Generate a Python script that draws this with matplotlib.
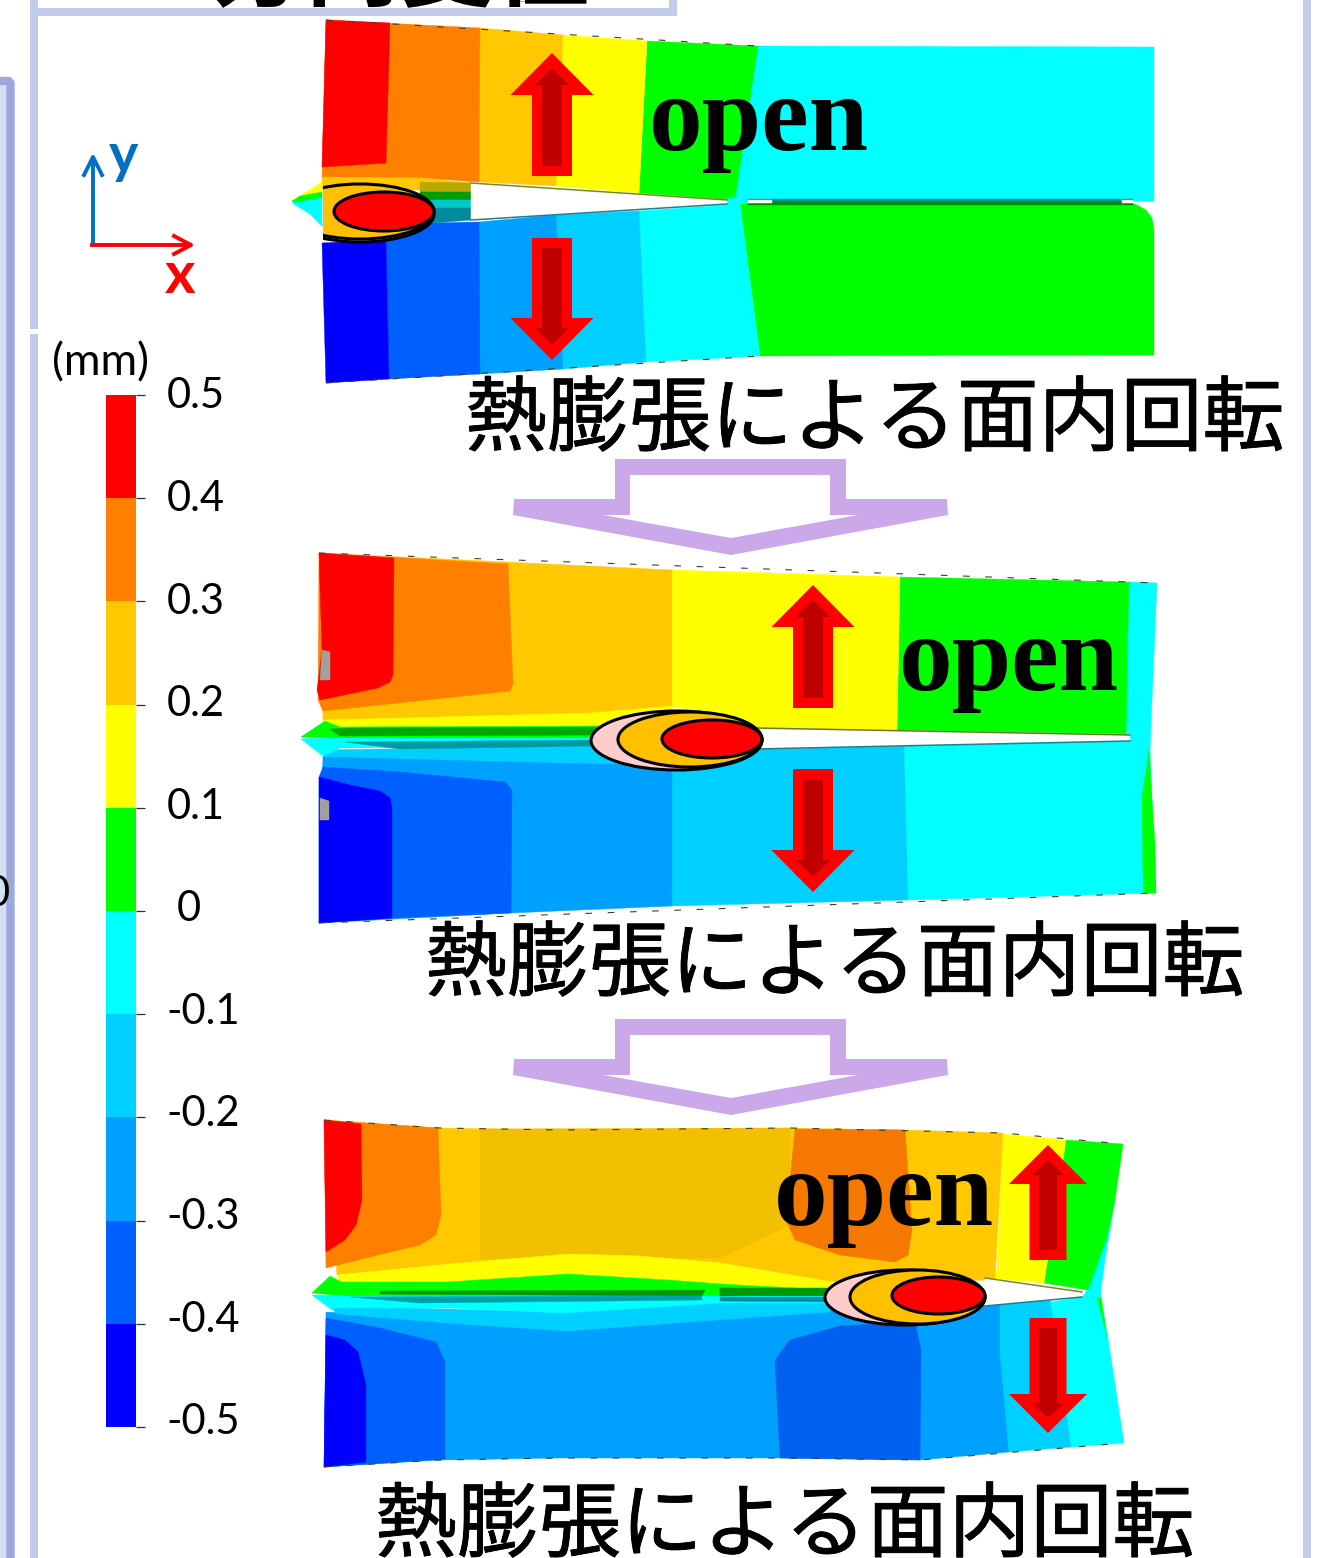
import matplotlib
matplotlib.use('Agg')
import numpy as np
import matplotlib.pyplot as plt
import matplotlib.patheffects as pe
from matplotlib.patches import Polygon, Ellipse, Rectangle, FancyBboxPatch

W, H = 1329, 1558

# colour scale, top of the bar to the bottom
TICK_VALUES = [0.5, 0.4, 0.3, 0.2, 0.1, 0, -0.1, -0.2, -0.3, -0.4, -0.5]
TICK_LABELS = ['0.5', '0.4', '0.3', '0.2', '0.1', '0', '-0.1', '-0.2', '-0.3', '-0.4', '-0.5']
RED, ORANGE, AMBER, YELLOW, GREEN, CYAN, SKY, AZURE, ROYAL, BLUE = (
    '#ff0000', '#ff8000', '#ffc800', '#ffff00', '#00ff00',
    '#00ffff', '#00d0ff', '#00a0ff', '#0060ff', '#0000ff')
LEVEL_COLORS = [RED, ORANGE, AMBER, YELLOW, GREEN, CYAN, SKY, AZURE, ROYAL, BLUE]

# contour regions, painted in list order
PANEL1 = [
    (CYAN, [(758, 46), (1154, 47), (1154, 201), (735, 201)]),
    (GREEN, [(647, 41), (758, 46), (735, 200), (639, 193)]),
    (YELLOW, [(563, 35), (647, 41), (639, 193), (556, 186)]),
    (AMBER, [(480, 28), (563, 35), (556, 186), (479, 182)]),
    (ORANGE, [(326, 20), (480, 28), (479, 182), (423, 178), (322, 177)]),
    (RED, [(326, 20), (390, 23), (386, 163), (322, 167)]),
    (AMBER, [(322, 177), (423, 178), (471, 183), (471, 190), (322, 190)]),
    (CYAN, [(727, 198), (760, 198), (760, 206), (727, 206)]),
    (GREEN, [(740, 204), (1135, 204), (1146, 210), (1152, 218), (1154, 230), (1154, 355), (760, 356)]),
    (CYAN, [(639, 211), (740, 204), (760, 356), (646, 362)]),
    (SKY, [(556, 215), (639, 211), (646, 362), (563, 369)]),
    (AZURE, [(479, 222), (556, 215), (563, 369), (479, 374)]),
    (ROYAL, [(322, 225), (479, 222), (480, 374), (389, 379), (386, 240)]),
    (BLUE, [(322, 243), (386, 240), (389, 379), (326, 383)]),
    # tip and the closed part of the crack
    (YELLOW, [(292, 201), (322, 182), (322, 192), (300, 197)]),
    (GREEN, [(292, 201), (300, 196), (322, 192), (322, 198), (296, 204)]),
    (CYAN, [(292, 203), (322, 198), (322, 226), (310, 214)]),
    ('#b8a800', [(420, 182), (471, 183), (471, 192), (420, 192)]),
    ('#009c00', [(420, 192), (471, 192), (471, 200), (420, 200)]),
    ('#00c8c8', [(420, 200), (471, 200), (471, 208), (420, 208)]),
    ('#008c9c', [(420, 208), (471, 208), (471, 220), (420, 224)]),
    ('#ffffff', [(471, 183), (727, 200), (727, 203), (471, 220)]),
    # long closed crack on the right: teal over dark green, open only at its ends
    ('#008c9c', [(748, 199), (1133, 199), (1133, 202), (748, 202)]),
    ('#009000', [(748, 202), (1133, 202), (1133, 205), (748, 205)]),
    ('#ffffff', [(748, 200), (772, 200), (772, 203), (748, 203)]),
    ('#ffffff', [(1122, 200), (1133, 200), (1133, 203), (1122, 203)]),
]
PANEL2 = [
    (CYAN, [(1129, 582), (1157, 583), (1152, 700), (1150, 750), (1156, 893), (908, 900), (904, 745), (1126, 738)]),
    (GREEN, [(900, 577), (1129, 582), (1126, 734), (897, 730)]),
    (YELLOW, [(672, 570), (900, 577), (897, 730), (760, 728), (672, 706)]),
    (AMBER, [(319, 553), (672, 570), (672, 708), (590, 715), (323, 721)]),
    (YELLOW, [(323, 720), (590, 713), (672, 706), (680, 726), (597, 727), (327, 729)]),
    (ORANGE, [(319, 553), (508, 564), (513, 684), (510, 691), (323, 711), (318, 700)]),
    (RED, [(319, 553), (394, 558), (393, 675), (390, 682), (378, 688), (320, 700), (317, 690), (322, 650)]),
    ('#a0a0a0', [(322, 650), (330, 652), (330, 680), (320, 680)]),
    (SKY, [(323, 750), (680, 744), (672, 770), (590, 767), (323, 758)]),
    (SKY, [(672, 748), (904, 745), (908, 900), (672, 906)]),
    (AZURE, [(323, 757), (590, 764), (672, 764), (672, 906), (511, 913), (319, 923)]),
    (ROYAL, [(323, 767), (400, 772), (505, 782), (512, 790), (511, 913), (392, 918), (319, 923), (319, 777)]),
    (BLUE, [(319, 777), (350, 785), (380, 791), (390, 798), (392, 808), (392, 918), (319, 923)]),
    ('#a0a0a0', [(320, 798), (329, 801), (329, 820), (320, 820)]),
    (GREEN, [(1149, 750), (1142, 797), (1143, 877), (1144, 893), (1156, 893), (1155, 843), (1152, 800)]),
    # crack faces
    (GREEN, [(301, 737), (325, 721), (340, 727), (600, 726), (600, 738), (330, 738)]),
    ('#00a800', [(330, 729), (350, 728), (600, 727), (600, 735), (340, 736)]),
    (CYAN, [(301, 739), (330, 738), (600, 738), (600, 746), (340, 748), (323, 756)]),
    ('#009aa0', [(345, 742), (600, 740), (600, 746), (400, 749)]),
    ('#ffffff', [(755, 728), (1130, 735), (1130, 741), (755, 749)]),
]
PANEL3 = [
    (CYAN, [(1082, 1297), (1101, 1297), (1108, 1338), (1124, 1443), (1071, 1447), (1050, 1302)]),
    (CYAN, [(1115, 1200), (1105, 1260), (1101, 1290), (1101, 1300), (1082, 1298), (1088, 1288)]),
    (GREEN, [(1066, 1140), (1123, 1144), (1115, 1200), (1107, 1237), (1088, 1290), (1044, 1283)]),
    (YELLOW, [(1003, 1134), (1066, 1140), (1044, 1283), (985, 1278), (997, 1270)]),
    (AMBER, [(324, 1120), (440, 1128), (560, 1130), (790, 1128), (905, 1130), (1003, 1133), (995, 1280),
             (832, 1282), (721, 1263), (640, 1256), (568, 1254), (450, 1264), (337, 1275)]),
    ('#f2c000', [(480, 1129), (790, 1128), (790, 1225), (720, 1258), (480, 1259)]),
    (YELLOW, [(337, 1275), (450, 1264), (568, 1254), (640, 1256), (721, 1263), (832, 1282), (832, 1290),
              (721, 1284), (668, 1280), (568, 1274), (447, 1282), (339, 1283)]),
    ('#f57800', [(795, 1129), (905, 1130), (912, 1230), (908, 1255), (895, 1262), (840, 1255), (795, 1240), (786, 1220)]),
    (ORANGE, [(324, 1120), (438, 1128), (441, 1215), (436, 1235), (420, 1245), (390, 1252), (326, 1268)]),
    (RED, [(324, 1120), (361, 1124), (362, 1200), (356, 1225), (345, 1240), (326, 1252)]),
    (GREEN, [(339, 1282), (447, 1282), (568, 1274), (668, 1280), (721, 1284), (832, 1290), (832, 1296),
             (700, 1298), (420, 1298), (345, 1296)]),
    ('#008f00', [(720, 1288), (832, 1290), (832, 1296), (720, 1298)]),
    (AZURE, [(326, 1312), (568, 1325), (716, 1318), (830, 1310), (1000, 1305), (1009, 1452), (920, 1460),
             (780, 1458), (560, 1458), (440, 1460), (324, 1467)]),
    (SKY, [(1000, 1305), (1050, 1300), (1071, 1447), (1009, 1452), (1000, 1353)]),
    (SKY, [(330, 1306), (563, 1312), (721, 1302), (830, 1303), (830, 1312), (716, 1320), (568, 1331), (460, 1324), (337, 1314)]),
    (CYAN, [(332, 1296), (830, 1296), (830, 1303), (721, 1303), (563, 1313), (450, 1308), (332, 1308)]),
    (ROYAL, [(326, 1318), (380, 1328), (436, 1342), (445, 1362), (445, 1459), (324, 1467)]),
    ('#0060f0', [(775, 1360), (790, 1340), (840, 1326), (915, 1322), (921, 1350), (920, 1460), (780, 1458)]),
    (BLUE, [(326, 1335), (345, 1340), (358, 1352), (366, 1385), (366, 1462), (324, 1467)]),
    (GREEN, [(1097, 1298), (1101, 1298), (1107, 1337), (1102, 1317)]),
    # tip and crack faces
    (GREEN, [(312, 1293), (330, 1276), (345, 1284), (345, 1296)]),
    (CYAN, [(312, 1295), (345, 1296), (345, 1300), (332, 1310)]),
    ('#009a00', [(380, 1291), (705, 1290), (702, 1296), (380, 1294)]),
    ('#00a0a8', [(350, 1297), (702, 1296), (702, 1300), (420, 1303)]),
    ('#009a00', [(720, 1288), (830, 1288), (830, 1295), (720, 1296)]),
    ('#008f9c', [(720, 1297), (830, 1297), (830, 1302), (720, 1301)]),
    ('#ffffff', [(985, 1278), (1082, 1293), (1082, 1296), (985, 1306)]),
]
PANELS = [PANEL1, PANEL2, PANEL3]

# outlines drawn as thin dashes on the free edges of each plate
PANEL_EDGES = [
    [(326, 20), (758, 46)],
    [(326, 383), (760, 356)],
    [(319, 553), (1157, 583)],
    [(319, 923), (1157, 893)],
    [(324, 1120), (440, 1128), (560, 1130), (790, 1128), (1003, 1133), (1123, 1144)],
    [(324, 1467), (440, 1460), (560, 1458), (780, 1458), (920, 1460), (1123, 1443)],
]

# dark lines along the crack faces, colour first
CRACK_LINES = [
    ('#7a8a20', [(471, 183), (727, 200)]),
    ('#1f7f8c', [(471, 220), (727, 204)]),
    ('#6a7a20', [(755, 728), (1130, 735)]),
    ('#1f7f8c', [(755, 749), (1130, 741)]),
    ('#7a8a20', [(985, 1278), (1082, 1292)]),
    ('#1f7f8c', [(985, 1306), (1082, 1297)]),
]

# heat-affected ellipses: left, right, top, bottom, fill
ELLIPSES1 = [(286, 434, 186, 242, '#ffcccc'), (286, 434, 184, 239, '#ffc000'), (334, 434, 192, 231, '#ff0000')]
ELLIPSES2 = [(591, 762, 711, 770, '#ffcccc'), (618, 762, 712, 767, '#ffc000'), (662, 762, 720, 758, '#ff0000')]
ELLIPSES3 = [(825, 985, 1270, 1325, '#ffcccc'), (850, 985, 1270, 1324, '#ffc000'), (892, 985, 1277, 1314, '#ff0000')]

# red arrows: centre, base, tip
ARROWS_WIDE = [(552, 176, 53), (552, 238, 360), (813, 708, 585), (813, 769, 892)]
ARROWS_NARROW = [(1048, 1260, 1145), (1048, 1318, 1433)]

# hollow purple arrows
PURPLE_OUTER = [(615, 459), (846, 459), (846, 499), (947, 499), (948, 515), (731, 555),
                (513, 515), (514, 499), (615, 499)]
PURPLE_INNER = [(630, 475), (830, 475), (830, 515), (858, 515), (731, 538), (603, 515), (630, 515)]
PURPLE_TOPS = [0, 560]

# annotation text with anchors
CAPTION = '熱膨張による面内回転'
CAPTION_X = [875, 835, 785]
CAPTION_Y = [421, 966, 1527]
OPEN_X = [649, 899, 774]
OPEN_Y = [150, 690, 1225]


def red_arrow(ax, cx, base, tip, hw, hs, head, ihw, ihs, ihead):
    sign = 1 if tip > base else -1
    wing = tip - sign * head
    ax.add_patch(Polygon([(cx - hs, base), (cx + hs, base), (cx + hs, wing), (cx + hw, wing), (cx, tip),
                          (cx - hw, wing), (cx - hs, wing)], fc='#ff0000', ec='none', zorder=6))
    b2 = base + sign * 10
    t2 = tip - sign * 15
    w2 = t2 - sign * ihead
    ax.add_patch(Polygon([(cx - ihs, b2), (cx + ihs, b2), (cx + ihs, w2), (cx + ihw, w2), (cx, t2),
                          (cx - ihw, w2), (cx - ihs, w2)], fc='#c00000', ec='none', zorder=7))


def draw_ellipses(ax, rows, clip_x=None):
    for left, right, top, bottom, fill in rows:
        e = Ellipse(((left + right) / 2, (top + bottom) / 2), right - left, bottom - top,
                    fc=fill, ec='black', lw=2.2, zorder=5)
        ax.add_patch(e)
        if clip_x is not None:
            e.set_clip_path(Rectangle((clip_x, 0), W, H, transform=ax.transData))


fig = plt.figure(figsize=(W / 100, H / 100), dpi=100, facecolor='white')
ax = fig.add_axes([0, 0, 1, 1])
ax.set_xlim(0, W)
ax.set_ylim(H, 0)
ax.axis('off')

# slide frames
FRAME = '#c3cbea'
ax.add_patch(Rectangle((0, 80), 10, H, fc='#d5e1f3', ec='none', zorder=1))
ax.add_patch(FancyBboxPatch((-20, 81), 30.5, H, boxstyle='round,pad=0,rounding_size=3', fc='none',
                            ec='#9da8dc', lw=6, zorder=1))
ax.add_patch(Rectangle((30, 0), 8, 329, fc=FRAME, ec='none', zorder=1))
ax.add_patch(Rectangle((30, 334), 8, H, fc=FRAME, ec='none', zorder=1))
ax.add_patch(Rectangle((1303, 0), 8, H, fc=FRAME, ec='none', zorder=1))
ax.add_patch(Rectangle((30, 8), 647, 8, fc=FRAME, ec='none', zorder=1))
ax.add_patch(Rectangle((669, 0), 8, 16, fc=FRAME, ec='none', zorder=1))
ax.plot([520, 586], [0.5, 0.5], color='#b0b0b0', lw=0.8, zorder=1)
ax.text(400, -29, '方向変位', family=['Noto Sans CJK JP', 'DejaVu Sans'], weight='bold', fontsize=68,
        ha='center', va='center', clip_on=True, zorder=2)
ax.text(-14, 894, '0', family='Lato', fontsize=30, ha='left', va='center', zorder=2)

# plates
for panel in PANELS:
    for color, pts in panel:
        ax.add_patch(Polygon(pts, closed=True, fc=color, ec=color, lw=0.3, zorder=3))
for edge in PANEL_EDGES:
    xs, ys = zip(*edge)
    ax.plot(xs, ys, color='#404020', lw=0.8, ls=(0, (6, 14)), zorder=4)
for color, line in CRACK_LINES:
    xs, ys = zip(*line)
    ax.plot(xs, ys, color=color, lw=1.1, zorder=4)

draw_ellipses(ax, ELLIPSES1, clip_x=323)
draw_ellipses(ax, ELLIPSES2)
draw_ellipses(ax, ELLIPSES3)

for cx, base, tip in ARROWS_WIDE:
    red_arrow(ax, cx, base, tip, 41.5, 20, 42, 17, 10, 17)
for cx, base, tip in ARROWS_NARROW:
    red_arrow(ax, cx, base, tip, 39, 18.5, 39, 16, 9, 15)

for dy in PURPLE_TOPS:
    ax.add_patch(Polygon([(x, y + dy) for x, y in PURPLE_OUTER], fc='#caa8ea', ec='none', zorder=6))
    ax.add_patch(Polygon([(x, y + dy) for x, y in PURPLE_INNER], fc='white', ec='none', zorder=7))

for x, y in zip(OPEN_X, OPEN_Y):
    ax.text(x, y, 'open', family='Liberation Serif', weight='bold', fontsize=77, ha='left',
            va='baseline', color='black', zorder=8)
for x, y in zip(CAPTION_X, CAPTION_Y):
    ax.text(x, y, CAPTION, family=['Noto Sans CJK JP', 'DejaVu Sans'], fontsize=59, ha='center', va='center',
            color='black', zorder=8, path_effects=[pe.withStroke(linewidth=0.6, foreground='black')])

# xy axes
ax.plot([93, 93], [245, 158], color='#0070c0', lw=2.8, zorder=8)
ax.plot([84, 93, 102], [175, 157, 175], color='#0070c0', lw=2.8, zorder=8)
ax.plot([92, 190], [245, 245], color='#ff0000', lw=2.8, zorder=8)
ax.plot([174, 191, 174], [236, 245, 254], color='#ff0000', lw=2.8, zorder=8)
ax.text(123, 173, 'y', family='Lato', weight='bold', fontsize=40, color='#0070c0', ha='center', va='baseline', zorder=8)
ax.text(180, 293, 'x', family='Lato', weight='bold', fontsize=42, color='#ff0000', ha='center', va='baseline', zorder=8)
ax.text(100, 363, '(mm)', family='Lato', fontsize=32, ha='center', va='center', zorder=8)

# colour bar
ax_cb = fig.add_axes([106 / W, 1 - 1427 / H, 30 / W, (1427 - 395) / H])
ax_cb.set_xlim(0, 1)
ax_cb.set_ylim(-0.5, 0.5)
for i, color in enumerate(LEVEL_COLORS):
    ax_cb.bar(0.5, 0.1, width=1, bottom=TICK_VALUES[i + 1], color=color, edgecolor='none')
ax_cb.set_xticks([])
ax_cb.set_yticks(TICK_VALUES)
ax_cb.set_yticklabels([])
ax_cb.yaxis.tick_right()
ax_cb.tick_params(axis='y', length=6.5, width=0.9, color='#303030')
for side in ('top', 'left', 'bottom', 'right'):
    ax_cb.spines[side].set_visible(False)
for v, lbl in zip(TICK_VALUES, TICK_LABELS):
    extra = 7.5 if v == 0 else 0
    ax_cb.annotate(lbl, xy=(1, v), xycoords=ax_cb.get_yaxis_transform(),
                   xytext=(22 + extra, (0.5 - v) * 4.5 - 1), textcoords='offset points',
                   family='Lato', fontsize=30, ha='left', va='center', annotation_clip=False)

fig.savefig('out.png', dpi=100)
